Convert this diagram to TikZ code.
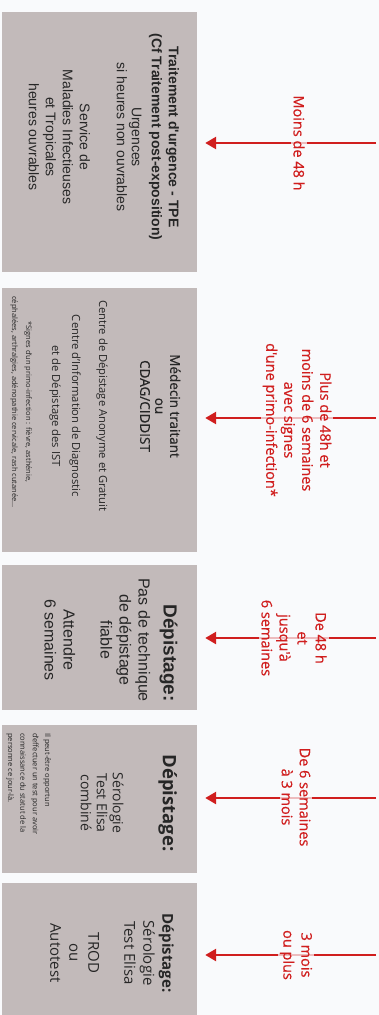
\documentclass[tikz,border=0pt]{standalone}
\usepackage{fontspec}
\usetikzlibrary{arrows.meta}
\setmainfont{Open Sans}
\newfontfamily\arialfont{Liberation Sans}
\newfontfamily\mediumfont[FakeBold=0.6]{Open Sans}

\definecolor{boxgray}{RGB}{194,186,186}
\definecolor{pagebg}{RGB}{249,250,252}
\definecolor{delayred}{RGB}{208,30,30}

\begin{document}
\begin{tikzpicture}[x=1pt, y=-1pt,
  stage/.style={fill=boxgray, inner sep=0pt, minimum width=195pt},
  stagetext/.style={rotate=-90, align=center, inner sep=0pt, text=black!85},
  delay/.style={rotate=-90, align=center, text=delayred, fill=pagebg,
    fill opacity=.72, text opacity=1, inner sep=2pt,
    font=\mediumfont\fontsize{14.5}{18}\selectfont},
  toward/.style={draw=delayred, line width=2.6pt,
    -{Triangle[length=11pt,width=12pt]}, shorten >=8pt}]
  \fill[pagebg] (0,0) rectangle (379,1015);
  \useasboundingbox (0,0) rectangle (379,1015);

  % the five stages
  \node[stage, minimum height=260pt] (b1) at (99.5,142) {};
  \node[stage, minimum height=264pt] (b2) at (99.5,420) {};
  \node[stage, minimum height=145pt] (b3) at (99.5,637.5) {};
  \node[stage, minimum height=148pt] (b4) at (99.5,799) {};
  \node[stage, minimum height=142pt] (b5) at (99.5,954) {};

  \node[stagetext, font=\arialfont\fontsize{14}{17}\selectfont] (t1) at (104,137)
    {\textbf{Traitement d'urgence - TPE}\\ \textbf{(Cf Traitement post-exposition)}\\[3pt]
     Urgences\\[-2pt] si heures non ouvrables\\[20pt] Service de\\ Maladies Infectieuses\\
     et Tropicales\\ heures ouvrables};
  \node[stagetext, font=\fontsize{11.2}{15}\selectfont] (t2) at (115,406)
    {{\mediumfont\fontsize{13.5}{15}\selectfont Médecin traitant}\\
     {\mediumfont\fontsize{13.5}{15}\selectfont ou}\\
     {\mediumfont\fontsize{13.5}{15}\selectfont CDAG/CIDDIST}\\[26pt]
     Centre de Dépistage Anonyme et Gratuit\\[12pt]
     Centre d'Information de Diagnostic\\[5pt] et de Dépistage des IST};
  \node[stagetext, font=\fontsize{7.5}{14}\selectfont] (note2) at (21,402)
    {*Signes d'un primo-infection : fièvre, asthénie,\\
     céphalées, arthralgies, adénopathie cervicale, rash cutanée...};
  \node[stagetext, font=\arialfont\fontsize{16}{19}\selectfont] (t3) at (111,640)
    {\hspace*{26pt}{\bfseries\fontsize{19}{19}\selectfont Dépistage:}\\[6pt] Pas de technique\\
     de dépistage\\ fiable\\[18pt] Attendre\\ 6 semaines};
  \node[stagetext, font=\fontsize{14}{16}\selectfont] (t4) at (129,803)
    {{\bfseries\fontsize{18.5}{17}\selectfont Dépistage:}\\[34pt] Sérologie\\ Test Elisa\\ combiné};
  \node[stagetext, align=left, anchor=north west, font=\fontsize{7.5}{12.3}\selectfont]
    (note4) at (51,733)
    {Il peut-être opportun\\ d'effectuer un test pour avoir\\
     connaissance du statut de la\\ personne ce jour-là.};
  \node[stagetext, font=\fontsize{15}{19}\selectfont] (t5) at (112,953)
    {{\bfseries Dépistage:}\\ Sérologie\\ Test Elisa\\[17pt] TROD\\ ou\\ Autotest};

  % delays since exposure
  \coordinate (s1) at (376,143);
  \coordinate (s2) at (376,418);
  \coordinate (s3) at (376,638);
  \coordinate (s4) at (376,798);
  \coordinate (s5) at (376,955);

  \draw[toward] (s1) -- (s1 -| b1.east);
  \draw[toward] (s2) -- (s2 -| b2.east);
  \draw[toward] (s3) -- (s3 -| b3.east);
  \draw[toward] (s4) -- (s4 -| b4.east);
  \draw[toward] (s5) -- (s5 -| b5.east);

  \node[delay] (l1) at (299,143) {Moins de 48 h};
  \node[delay] (l2) at (297,420)
    {Plus de 48h et\\ moins de 6 semaines\\ avec signes\\ d'une primo-infection*};
  \node[delay] (l3) at (294,638) {De 48 h\\ et\\ jusqu'à\\ 6 semaines};
  \node[delay] (l4) at (296,797) {De 6 semaines\\ à 3 mois};
  \node[delay] (l5) at (296,955) {3 mois\\ ou plus};
\end{tikzpicture}
\end{document}
